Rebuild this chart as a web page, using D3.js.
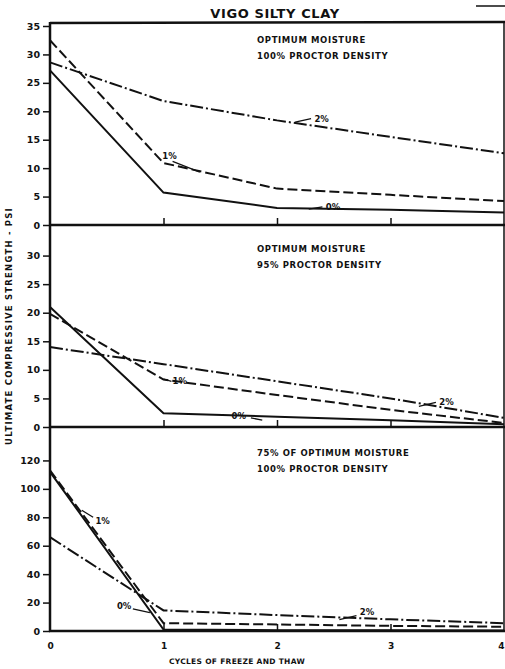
<!DOCTYPE html>
<html>
<head>
<meta charset="utf-8">
<script src="https://cdn.jsdelivr.net/npm/d3@7"></script>
<style>
	body { margin: 0; background: #fff; }
	svg text { font-family: "DejaVu Sans", sans-serif; font-weight: bold; fill: #111; }
</style>
</head>
<body>
<div id="chart"></div>
<script>
// freeze-thaw cycles (x axis)
var cycles = [0, 1, 2, 3, 4];
var seriesNames = ["0%", "1%", "2%"];

// optimum moisture, 100% proctor density
var opt100_0 = [27.2, 5.7, 3.0, 2.7, 2.2];
var opt100_1 = [32.5, 10.9, 6.4, 5.3, 4.2];
var opt100_2 = [28.6, 21.8, 18.4, 15.5, 12.6];
// optimum moisture, 95% proctor density
var opt95_0 = [21.0, 2.4, 1.8, 1.2, 0.5];
var opt95_1 = [19.8, 8.3, 5.6, 3.0, 0.7];
var opt95_2 = [14.0, 11.0, 8.0, 5.0, 1.6];
// 75% of optimum moisture, 100% proctor density
var dry100_0 = [112, 1.0, 0.6, 0.5, 0.4];
var dry100_1 = [113, 5.5, 4.6, 3.6, 3.0];
var dry100_2 = [66, 14.5, 11.2, 8.2, 5.5];

var yTicks35 = [0, 5, 10, 15, 20, 25, 30, 35];
var yTicks30 = [0, 5, 10, 15, 20, 25, 30];
var yTicks120 = [0, 20, 40, 60, 80, 100, 120];

var notes = [
	["OPTIMUM MOISTURE", "100% PROCTOR DENSITY"],
	["OPTIMUM MOISTURE", "95% PROCTOR DENSITY"],
	["75% OF OPTIMUM MOISTURE", "100% PROCTOR DENSITY"]
];

// curve labels: text position and arrow, in data units (cycles, psi)
var labels1 = [
	{ t: "2%", x: 2.33, y: 18.2, ax: 2.30, ay: 18.7, bx: 2.16, by: 18.1 },
	{ t: "1%", x: 0.99, y: 11.6, ax: 1.08, ay: 11.2, bx: 1.32, by: 9.3 },
	{ t: "0%", x: 2.43, y: 2.6, ax: 2.40, ay: 3.2, bx: 2.28, by: 2.8 }
];
var labels2 = [
	{ t: "1%", x: 1.08, y: 7.6, ax: 1.07, ay: 8.0, bx: 1.0, by: 8.4 },
	{ t: "0%", x: 1.60, y: 1.4, ax: 1.77, ay: 1.6, bx: 1.87, by: 1.2 },
	{ t: "2%", x: 3.43, y: 3.9, ax: 3.40, ay: 4.3, bx: 3.25, by: 3.6 }
];
var labels3 = [
	{ t: "1%", x: 0.40, y: 75, ax: 0.38, ay: 80, bx: 0.28, by: 85 },
	{ t: "0%", x: 0.59, y: 15.5, ax: 0.73, ay: 15.5, bx: 0.88, by: 13 },
	{ t: "2%", x: 2.73, y: 11, ax: 2.70, ay: 10.8, bx: 2.55, by: 8 }
];

var panels = [
	{ series: [opt100_0, opt100_1, opt100_2], max: 35, ticks: yTicks35, top: 26, bottom: 225, note: notes[0], noteY: 43, labels: labels1 },
	{ series: [opt95_0, opt95_1, opt95_2], max: 35, ticks: yTicks30, top: 227, bottom: 427, note: notes[1], noteY: 252, labels: labels2 },
	{ series: [dry100_0, dry100_1, dry100_2], max: 140, ticks: yTicks120, top: 432, bottom: 631, note: notes[2], noteY: 456, labels: labels3 }
];

var dashes = ["none", "10,4", "13,3,2,3"];

var width = 505, height = 669;
var svg = d3.select("#chart").append("svg")
	.attr("width", width)
	.attr("height", height);

var x = d3.scaleLinear().domain([0, 4]).range([50, 504]);

//Title
svg.append("text")
	.attr("x", 275)
	.attr("y", 18)
	.attr("text-anchor", "middle")
	.attr("font-size", "13px")
	.attr("letter-spacing", "0.6px")
	.text("VIGO SILTY CLAY");

svg.append("line")
	.attr("x1", 476).attr("x2", 505)
	.attr("y1", 6).attr("y2", 6)
	.attr("stroke", "#111").attr("stroke-width", 1.5);

//top frame line
svg.append("line")
	.attr("x1", 50).attr("x2", 505)
	.attr("y1", 23).attr("y2", 22)
	.attr("stroke", "#111").attr("stroke-width", 2.5);

panels.forEach(function(p) {
	var y = d3.scaleLinear().domain([0, p.max]).range([p.bottom, p.top]);
	var g = svg.append("g");

	//y axis
	var yAxis = g.append("g")
		.attr("transform", "translate(50,0)")
		.call(d3.axisLeft(y).tickValues(p.ticks).tickSize(7).tickPadding(3));
	yAxis.select(".domain").remove();
	yAxis.selectAll("line").attr("stroke", "#111").attr("stroke-width", 1.5);
	yAxis.selectAll("text")
		.attr("font-size", "9.5px")
		.attr("font-family", "DejaVu Sans")
		.attr("font-weight", "bold")
		.attr("fill", "#111");

	//x axis with inner ticks
	var xAxis = g.append("g")
		.attr("transform", "translate(0," + p.bottom + ")")
		.call(d3.axisTop(x).tickValues([1, 2, 3]).tickSize(7).tickFormat(""));
	xAxis.select(".domain").remove();
	xAxis.selectAll("line").attr("stroke", "#111").attr("stroke-width", 1.5);

	g.append("line")
		.attr("x1", 49).attr("x2", 505)
		.attr("y1", p.bottom).attr("y2", p.bottom)
		.attr("stroke", "#111").attr("stroke-width", 2.5);

	//lines
	var line = d3.line()
		.x(function(d, i) { return x(cycles[i]); })
		.y(function(d) { return y(d); });
	p.series.forEach(function(s, i) {
		g.append("path")
			.datum(s)
			.attr("d", line)
			.attr("fill", "none")
			.attr("stroke", "#111")
			.attr("stroke-width", 2)
			.attr("stroke-dasharray", dashes[i]);
	});

	//notes
	p.note.forEach(function(n, i) {
		g.append("text")
			.attr("x", 257)
			.attr("y", p.noteY + i * 16)
			.attr("font-size", "8.5px")
			.attr("letter-spacing", "0.6px")
			.text(n);
	});

	//curve labels
	p.labels.forEach(function(l) {
		g.append("line")
			.attr("x1", x(l.ax)).attr("y1", y(l.ay))
			.attr("x2", x(l.bx)).attr("y2", y(l.by))
			.attr("stroke", "#111").attr("stroke-width", 1.3);
		g.append("text")
			.attr("x", x(l.x))
			.attr("y", y(l.y))
			.attr("font-size", "8.5px")
			.text(l.t);
	});
});

//left and right frame
svg.append("line")
	.attr("x1", 50).attr("x2", 50)
	.attr("y1", 22).attr("y2", 632)
	.attr("stroke", "#111").attr("stroke-width", 2.5);
svg.append("line")
	.attr("x1", 504).attr("x2", 504)
	.attr("y1", 22).attr("y2", 632)
	.attr("stroke", "#111").attr("stroke-width", 1.5);

//bottom x labels
svg.append("g")
	.attr("transform", "translate(0,636)")
	.call(d3.axisBottom(x).tickValues(cycles).tickSize(0).tickPadding(7).tickFormat(d3.format("d")))
	.call(function(a) { a.select(".domain").remove(); })
	.selectAll("text")
	.attr("text-anchor", function(d) { return d === 4 ? "end" : "middle"; })
	.attr("font-size", "9px")
	.attr("font-family", "DejaVu Sans")
	.attr("font-weight", "bold")
	.attr("fill", "#111");

svg.append("text")
	.attr("x", 237)
	.attr("y", 664)
	.attr("text-anchor", "middle")
	.attr("font-size", "7.5px")
	.attr("letter-spacing", "0.3px")
	.text("CYCLES OF FREEZE AND THAW");

svg.append("text")
	.attr("transform", "translate(12,326) rotate(-90)")
	.attr("text-anchor", "middle")
	.attr("font-size", "8.5px")
	.attr("letter-spacing", "1.2px")
	.text("ULTIMATE COMPRESSIVE STRENGTH - PSI");
</script>
</body>
</html>
